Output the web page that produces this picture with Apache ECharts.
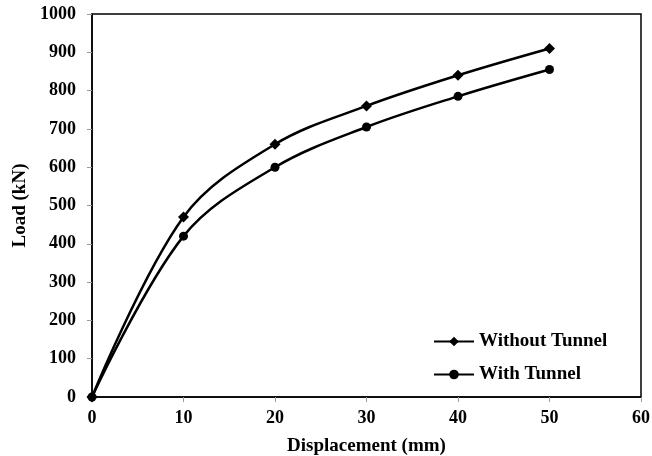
<!DOCTYPE html>
<html>
<head>
<meta charset="utf-8">
<script src="https://cdn.jsdelivr.net/npm/echarts@6/dist/echarts.min.js"></script>
<style>
  html, body { margin: 0; padding: 0; background: #fff; }
  #chart { width: 652px; height: 456px; }
</style>
</head>
<body>
<div id="chart"></div>
<script>
// displacement (mm) and load (kN)
const displacement = [0, 10, 20, 30, 40, 50];
const loadWithout = [0, 470, 660, 760, 840, 910];
const loadWith = [0, 420, 600, 705, 785, 855];
const seriesNames = ["Without Tunnel", "With Tunnel"];

const font = "'Liberation Serif', 'Times New Roman', serif";

function pairs(xs, ys) {
  return xs.map((x, i) => [x, ys[i]]);
}

const chart = echarts.init(document.getElementById("chart"));

const option = {
  animation: false,
  textStyle: { fontFamily: font },
  grid: {
    left: 92,
    right: 11,
    top: 14,
    bottom: 59,
    containLabel: false,
    outerBoundsMode: "none",
    show: true,
    borderColor: "#000",
    borderWidth: 1.5,
  },
  legend: {
    orient: "vertical",
    left: 428,
    top: 327,
    itemWidth: 40,
    itemHeight: 12,
    itemGap: 14,
    itemStyle: { borderWidth: 0 },
    textStyle: { fontFamily: font, fontSize: 19, fontWeight: "bold", color: "#000" },
    data: seriesNames,
  },
  xAxis: {
    type: "value",
    min: 0,
    max: 60,
    interval: 10,
    name: "Displacement (mm)",
    nameLocation: "middle",
    nameGap: 40,
    nameTextStyle: { fontFamily: font, fontSize: 19, fontWeight: "bold", color: "#000" },
    axisLine: { show: true, lineStyle: { color: "#000", width: 1.5 } },
    axisTick: { show: true, length: 5, lineStyle: { color: "#999" } },
    axisLabel: { fontFamily: font, fontSize: 18, fontWeight: "bold", color: "#000", margin: 12 },
    splitLine: { show: false },
  },
  yAxis: {
    type: "value",
    min: 0,
    max: 1000,
    interval: 100,
    name: "Load (kN)",
    nameLocation: "middle",
    nameGap: 62,
    nameTextStyle: { fontFamily: font, fontSize: 19, fontWeight: "bold", color: "#000" },
    axisLine: { show: true, lineStyle: { color: "#000", width: 1.5 } },
    axisTick: { show: true, length: 5, lineStyle: { color: "#999" } },
    axisLabel: {
      fontFamily: font, fontSize: 18, fontWeight: "bold", color: "#000", margin: 16,
      formatter: (v) => String(v),
    },
    splitLine: { show: false },
  },
  series: [
    {
      name: seriesNames[0],
      type: "line",
      smooth: 0.35,
      data: pairs(displacement, loadWithout),
      symbol: "diamond",
      symbolSize: 11,
      lineStyle: { color: "#000", width: 2.5 },
      itemStyle: { color: "#000" },
    },
    {
      name: seriesNames[1],
      type: "line",
      smooth: 0.35,
      data: pairs(displacement, loadWith),
      symbol: "circle",
      symbolSize: 9,
      lineStyle: { color: "#000", width: 2.5 },
      itemStyle: { color: "#000" },
    },
  ],
};

chart.setOption(option);
</script>
</body>
</html>
